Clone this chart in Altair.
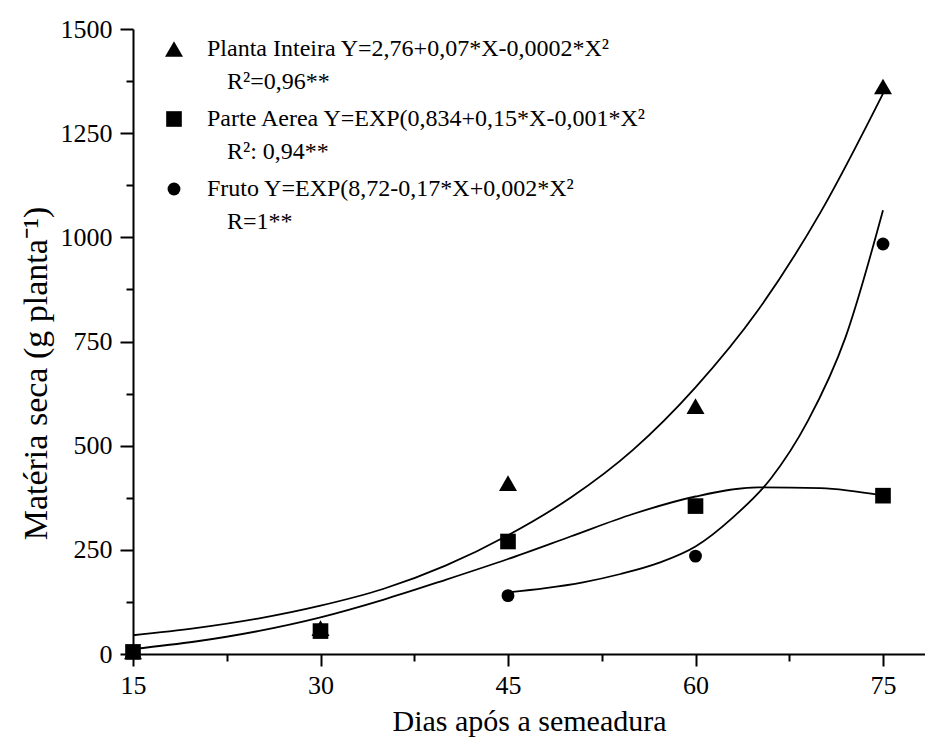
import altair as alt
import pandas as pd

FONT = "Liberation Serif"

equations = [
    "Planta Inteira Y=2,76+0,07*X-0,0002*X²",
    "Parte Aerea Y=EXP(0,834+0,15*X-0,001*X²",
    "Fruto Y=EXP(8,72-0,17*X+0,002*X²",
]
r2_text = ["R²=0,96**", "R²: 0,94**", "R=1**"]
shapes = ["triangle-up", "square", "circle"]
sizes = [324, 165, 290]

days = [15, 30, 45, 60, 75]
planta_inteira = [6, 62, 410, 595, 1362]
parte_aerea = [5, 55, 270, 355, 380]
fruto_days = [45, 60, 75]
fruto = [140, 235, 984]

# fitted curves
curve_days = [15, 20, 25, 30, 35, 40, 45, 50, 55, 60, 65, 70, 75]
curve_planta = [45, 62, 85, 116, 156, 212, 285, 375, 490, 640, 825, 1060, 1345]
curve_parte = [12, 30, 55, 88, 130, 178, 228, 282, 336, 378, 400, 398, 380]
fruto_curve_days = [45, 48, 51, 54, 57, 60, 63, 66, 69, 72, 75]
curve_fruto = [148, 158, 172, 192, 218, 258, 328, 420, 560, 760, 1065]

x_major = [15, 30, 45, 60, 75]
x_minor = [22.5, 37.5, 52.5, 67.5]
y_major = [0, 250, 500, 750, 1000, 1250, 1500]
y_minor = [125, 375, 625, 875, 1125, 1375]

# ---- tables ----
pts = pd.concat([
    pd.DataFrame({"day": days, "value": planta_inteira, "series": equations[0], "r2": r2_text[0]}),
    pd.DataFrame({"day": days, "value": parte_aerea, "series": equations[1], "r2": r2_text[1]}),
    pd.DataFrame({"day": fruto_days, "value": fruto, "series": equations[2], "r2": r2_text[2]}),
], ignore_index=True)

curves = pd.concat([
    pd.DataFrame({"day": curve_days, "value": curve_planta, "series": equations[0]}),
    pd.DataFrame({"day": curve_days, "value": curve_parte, "series": equations[1]}),
    pd.DataFrame({"day": fruto_curve_days, "value": curve_fruto, "series": equations[2]}),
], ignore_index=True)

xscale = alt.Scale(domain=[15, 78.36], nice=False, zero=False)
yscale = alt.Scale(domain=[0, 1500], nice=False)

axis_common = dict(
    grid=False, domainColor="black", domainWidth=2, tickColor="black",
    tickWidth=2, labelFont=FONT, labelColor="black", titleFont=FONT,
    titleColor="black", titleFontWeight="normal", labelFontSize=26,
    labelFlush=False, format="d",
)

x_axis = alt.Axis(
    values=x_major, title="Dias após a semeadura", tickSize=12,
    labelPadding=6, titleFontSize=30, titleY=52, titleBaseline="top",
    **axis_common,
)
y_axis = alt.Axis(
    values=y_major, title="Matéria seca (g planta⁻¹)", tickSize=13,
    labelPadding=8, titleFontSize=34, titleX=-97, titleY=344,
    titleAngle=-90, titleBaseline="middle", titleAlign="center",
    **axis_common,
)

legend_main = alt.Legend(
    title=None, orient="none", legendX=29, legendY=8, padding=0,
    labelFont=FONT, labelFontSize=24, labelColor="black", labelLimit=0,
    labelOffset=21, rowPadding=46, labelBaseline="middle",
    symbolFillColor="black", symbolStrokeWidth=0,
)
legend_r2 = alt.Legend(
    title=None, orient="none", legendX=70, legendY=41, padding=0,
    labelFont=FONT, labelFontSize=24, labelColor="black", labelLimit=0,
    labelOffset=0, rowPadding=46, labelBaseline="middle",
    symbolOpacity=0, symbolSize=1, symbolStrokeWidth=0,
)

lines = alt.Chart(curves).mark_line(color="black", strokeWidth=1.8, interpolate="monotone").encode(
    x=alt.X("day:Q", scale=xscale, axis=None),
    y=alt.Y("value:Q", scale=yscale, axis=None),
    detail="series:N",
)

points = alt.Chart(pts).mark_point(filled=True, opacity=1).encode(
    x=alt.X("day:Q", scale=xscale, axis=x_axis),
    y=alt.Y("value:Q", scale=yscale, axis=y_axis),
    shape=alt.Shape("series:N", scale=alt.Scale(domain=equations, range=shapes), legend=legend_main),
    size=alt.Size("series:N", scale=alt.Scale(domain=equations, range=sizes), legend=legend_main),
    color=alt.Color("r2:N", scale=alt.Scale(domain=r2_text, range=["black", "black", "black"]), legend=legend_r2),
)

minor = alt.Chart(pts).mark_point(opacity=0).encode(
    x=alt.X("day:Q", scale=xscale, axis=alt.Axis(
        values=x_minor, orient="bottom", labels=False, domain=False, grid=False,
        tickSize=7, tickWidth=2, tickColor="black", title=None)),
    y=alt.Y("value:Q", scale=yscale, axis=alt.Axis(
        values=y_minor, orient="left", labels=False, domain=False, grid=False,
        tickSize=7, tickWidth=2, tickColor="black", title=None)),
)

chart = alt.layer(lines, points, minor).resolve_axis(
    x="independent", y="independent"
).properties(
    width=792, height=625, autosize="none",
    padding={"left": 125, "top": 21, "right": 0, "bottom": 84},
).configure_view(stroke=None)

chart.save("out.html", embed_options={"renderer": "svg", "actions": False})
